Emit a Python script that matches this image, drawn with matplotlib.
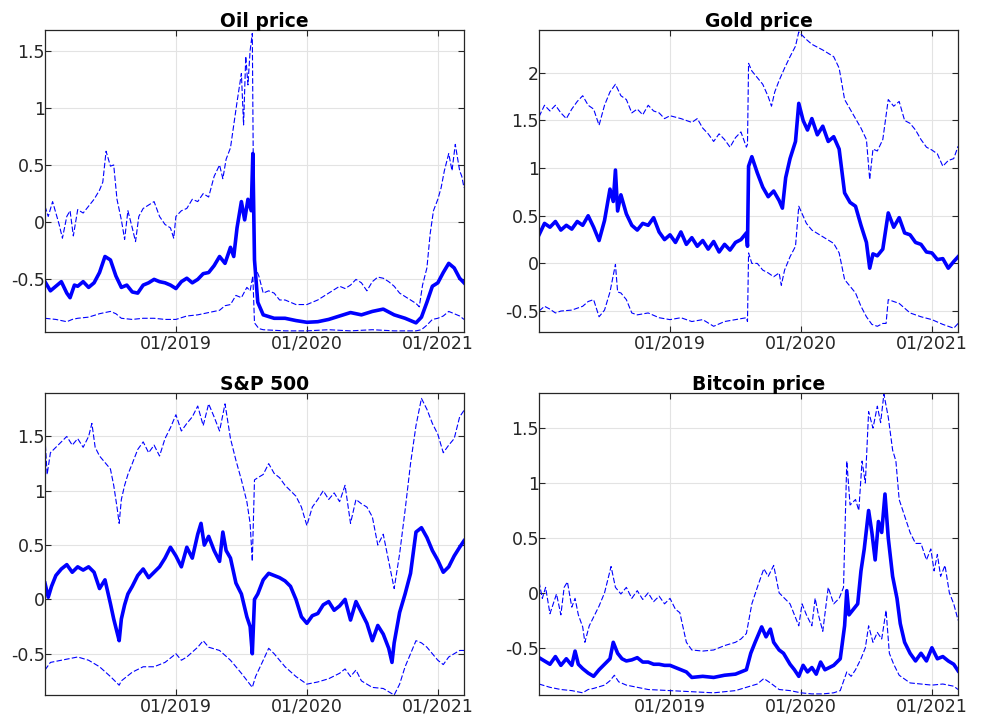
import numpy as np
import pandas as pd
import matplotlib
matplotlib.use('Agg')
import matplotlib.pyplot as plt
import matplotlib.dates as mdates

plt.rcParams['font.family'] = ['DejaVu Sans']

# x positions are months since 01/2018
# ---- Oil price
oil_mid_m = [0, 0.5, 1, 1.5, 2, 2.3, 2.7, 3, 3.5, 4, 4.5, 5, 5.5, 6, 6.5, 7, 7.5, 8, 8.5, 9,
             9.5, 10, 10.5, 11, 11.5, 12, 12.5, 13, 13.5, 14, 14.5, 15, 15.5, 16, 16.5, 17, 17.3, 17.6, 18, 18.3,
             18.6, 18.9, 19.05, 19.2, 19.5, 20, 21, 22, 23, 24, 25, 26, 27, 28, 29, 30, 31, 32, 33, 34,
             34.5, 35, 35.5, 36, 36.5, 37, 37.5, 38, 38.4]
oil_mid_v = [-0.52, -0.60, -0.56, -0.52, -0.62, -0.66, -0.55, -0.56, -0.52, -0.57,
             -0.53, -0.44, -0.30, -0.33, -0.47, -0.57, -0.55, -0.61, -0.62, -0.55,
             -0.53, -0.50, -0.52, -0.53, -0.55, -0.58, -0.52, -0.49, -0.53, -0.50,
             -0.45, -0.44, -0.38, -0.30, -0.36, -0.22, -0.30, -0.05, 0.18, 0.02,
             0.20, 0.10, 0.60, -0.33, -0.70, -0.81, -0.84, -0.84, -0.86, -0.875,
             -0.87, -0.85, -0.82, -0.79, -0.81, -0.78, -0.76, -0.81, -0.84, -0.88,
             -0.83, -0.70, -0.56, -0.53, -0.44, -0.36, -0.40, -0.49, -0.53]
oil_up_m = [0, 0.3, 0.7, 1, 1.3, 1.6, 2, 2.3, 2.6, 3, 3.5, 4, 4.5, 5, 5.3, 5.6, 6, 6.3, 6.6, 7,
            7.3, 7.6, 8, 8.3, 8.6, 9, 9.5, 10, 10.5, 11, 11.5, 11.8, 12, 12.5, 13, 13.5, 14, 14.5, 15, 15.5,
            16, 16.3, 16.6, 17, 17.3, 17.6, 18, 18.2, 18.4, 18.6, 18.8, 19, 19.15, 19.3, 19.6, 20, 20.5, 21, 21.5, 22,
            23, 24, 25, 26, 27, 27.5, 28, 28.5, 29, 29.5, 30, 30.5, 31, 31.5, 32, 32.5, 33, 33.5, 34, 34.3,
            34.6, 35, 35.3, 35.6, 36, 36.3, 36.6, 37, 37.3, 37.6, 38, 38.2, 38.4]
oil_up_v = [0.14, 0.05, 0.18, 0.08, -0.02, -0.14, 0.05, 0.10, -0.12, 0.11,
            0.08, 0.14, 0.20, 0.28, 0.35, 0.62, 0.49, 0.50, 0.20, 0.02,
            -0.15, 0.10, -0.05, -0.17, 0.05, 0.12, 0.15, 0.18, 0.05, -0.02,
            -0.05, -0.14, 0.05, 0.10, 0.12, 0.20, 0.18, 0.25, 0.22, 0.40,
            0.50, 0.38, 0.55, 0.65, 0.85, 1.05, 1.30, 0.85, 1.45, 1.20,
            1.50, 1.65, -0.25, -0.40, -0.47, -0.62, -0.60, -0.62, -0.68, -0.68,
            -0.72, -0.72, -0.68, -0.62, -0.56, -0.58, -0.55, -0.50, -0.53, -0.60,
            -0.52, -0.48, -0.49, -0.52, -0.56, -0.62, -0.65, -0.68, -0.71, -0.74,
            -0.55, -0.40, -0.10, 0.10, 0.20, 0.30, 0.45, 0.60, 0.45, 0.68,
            0.45, 0.40, 0.30]
oil_lo_m = [0, 1, 2, 2.5, 3, 4, 5, 6, 6.5, 7, 8, 9, 10, 11, 12, 13, 14, 15, 16, 16.5,
            17, 17.5, 18, 18.5, 18.8, 19.05, 19.2, 19.6, 20, 22, 24, 26, 28, 30, 32, 34, 34.5, 35, 35.5, 36,
            36.5, 37, 37.5, 38, 38.4]
oil_lo_v = [-0.84, -0.85, -0.87, -0.85, -0.84, -0.83, -0.80, -0.78, -0.80, -0.84,
            -0.85, -0.84, -0.84, -0.85, -0.85, -0.82, -0.81, -0.79, -0.77, -0.73,
            -0.72, -0.64, -0.66, -0.57, -0.60, -0.47, -0.88, -0.93, -0.94, -0.95,
            -0.95, -0.94, -0.95, -0.94, -0.95, -0.95, -0.94, -0.90, -0.85, -0.84,
            -0.82, -0.78, -0.80, -0.82, -0.85]

# ---- Gold price
gold_mid_m = [0, 0.5, 1, 1.5, 2, 2.5, 3, 3.5, 4, 4.5, 5, 5.5, 6, 6.5, 6.8, 7, 7.2, 7.5, 8, 8.5,
              9, 9.5, 10, 10.5, 11, 11.5, 12, 12.5, 13, 13.5, 14, 14.5, 15, 15.5, 16, 16.5, 17, 17.5, 18, 18.5,
              19, 19.1, 19.2, 19.5, 20, 20.5, 21, 21.5, 22, 22.3, 22.6, 23, 23.5, 23.8, 24.2, 24.6, 25, 25.5, 26, 26.5,
              27, 27.5, 28, 28.5, 29, 29.5, 30, 30.3, 30.6, 31, 31.5, 32, 32.5, 33, 33.5, 34, 34.5, 35, 35.5, 36,
              36.5, 37, 37.5, 38, 38.4]
gold_mid_v = [0.30, 0.42, 0.38, 0.44, 0.35, 0.40, 0.36, 0.44, 0.40, 0.50,
              0.38, 0.24, 0.45, 0.78, 0.65, 0.98, 0.55, 0.72, 0.52, 0.40,
              0.35, 0.42, 0.40, 0.48, 0.33, 0.25, 0.30, 0.22, 0.33, 0.20,
              0.27, 0.18, 0.24, 0.15, 0.23, 0.12, 0.20, 0.14, 0.22, 0.25,
              0.32, 0.18, 1.02, 1.12, 0.95, 0.80, 0.70, 0.76, 0.66, 0.58,
              0.90, 1.10, 1.28, 1.68, 1.50, 1.40, 1.52, 1.35, 1.44, 1.28,
              1.33, 1.20, 0.74, 0.64, 0.60, 0.40, 0.22, -0.05, 0.10, 0.08,
              0.15, 0.53, 0.38, 0.48, 0.32, 0.30, 0.22, 0.20, 0.12, 0.11,
              0.04, 0.05, -0.05, 0.02, 0.07]
gold_up_m = [0, 0.5, 1, 1.5, 2, 2.5, 3, 3.5, 4, 4.5, 5, 5.5, 6, 6.5, 7, 7.5, 8, 8.5, 9, 9.5,
             10, 10.5, 11, 11.5, 12, 13, 14, 14.5, 15, 15.5, 16, 16.5, 17, 17.5, 18, 18.5, 19, 19.1, 19.2, 19.5,
             20, 20.5, 21, 21.3, 21.6, 22, 22.5, 23, 23.5, 23.8, 24.5, 25, 26, 27, 27.5, 28, 28.5, 29, 29.5, 30,
             30.3, 30.6, 31, 31.5, 32, 32.5, 33, 33.5, 34, 34.5, 35, 35.5, 36, 36.5, 37, 37.5, 38, 38.4]
gold_up_v = [1.54, 1.66, 1.60, 1.66, 1.58, 1.52, 1.62, 1.70, 1.76, 1.66,
             1.62, 1.45, 1.66, 1.80, 1.88, 1.76, 1.72, 1.58, 1.62, 1.56,
             1.66, 1.60, 1.58, 1.52, 1.55, 1.52, 1.48, 1.52, 1.42, 1.36,
             1.28, 1.36, 1.30, 1.22, 1.32, 1.38, 1.22, 1.25, 2.10, 2.02,
             1.95, 1.88, 1.75, 1.65, 1.80, 1.92, 2.05, 2.17, 2.28, 2.43,
             2.35, 2.30, 2.24, 2.17, 2.05, 1.72, 1.62, 1.52, 1.42, 1.30,
             0.88, 1.20, 1.18, 1.30, 1.72, 1.65, 1.70, 1.50, 1.47, 1.40,
             1.30, 1.22, 1.19, 1.15, 1.02, 1.08, 1.10, 1.23]
gold_lo_m = [0, 0.5, 1, 1.5, 2, 3, 4, 4.5, 5, 5.5, 6, 6.5, 7, 7.2, 7.5, 8, 8.5, 9, 10, 11,
             12, 13, 14, 15, 16, 17, 18, 19, 19.1, 19.2, 19.5, 20, 20.5, 21, 21.5, 22, 22.2, 22.5, 23, 23.5,
             23.8, 24.5, 25, 26, 27, 27.5, 28, 28.5, 29, 29.5, 30, 30.5, 31, 31.5, 31.8, 32, 33, 34, 35, 36,
             37, 38, 38.4]
gold_lo_v = [-0.50, -0.45, -0.48, -0.52, -0.50, -0.49, -0.45, -0.40, -0.38, -0.56,
             -0.49, -0.30, -0.01, -0.30, -0.31, -0.38, -0.52, -0.54, -0.52, -0.57,
             -0.59, -0.57, -0.61, -0.59, -0.66, -0.61, -0.59, -0.57, -0.61, 0.11,
             0.00, 0.00, -0.07, -0.10, -0.14, -0.10, -0.23, -0.07, 0.07, 0.18,
             0.60, 0.42, 0.35, 0.28, 0.21, 0.11, -0.17, -0.24, -0.31, -0.45,
             -0.56, -0.64, -0.66, -0.63, -0.63, -0.38, -0.42, -0.52, -0.56, -0.59,
             -0.64, -0.68, -0.63]

# ---- S&P 500
spx_mid_m = [0, 0.3, 0.6, 1, 1.5, 2, 2.5, 3, 3.5, 4, 4.5, 5, 5.5, 6, 6.3, 6.6, 6.8, 7, 7.3, 7.6,
             8, 8.5, 9, 9.5, 10, 10.5, 11, 11.5, 12, 12.5, 13, 13.5, 14, 14.3, 14.6, 15, 15.5, 16, 16.3, 16.6,
             17, 17.5, 18, 18.5, 18.8, 19, 19.2, 19.5, 20, 20.5, 21, 21.5, 22, 22.5, 23, 23.5, 24, 24.5, 25, 25.5,
             26, 26.5, 27, 27.5, 28, 28.5, 29, 29.5, 30, 30.5, 31, 31.5, 31.8, 32, 32.5, 33, 33.5, 34, 34.5, 35,
             35.5, 36, 36.5, 37, 37.5, 38, 38.4]
spx_mid_v = [0.15, 0.02, 0.12, 0.22, 0.28, 0.32, 0.25, 0.30, 0.27, 0.30,
             0.25, 0.10, 0.18, -0.04, -0.18, -0.30, -0.38, -0.18, -0.05, 0.05,
             0.12, 0.22, 0.28, 0.20, 0.25, 0.30, 0.38, 0.48, 0.40, 0.30,
             0.48, 0.38, 0.60, 0.70, 0.50, 0.58, 0.45, 0.35, 0.62, 0.45,
             0.38, 0.15, 0.05, -0.16, -0.25, -0.50, 0.00, 0.05, 0.18, 0.24,
             0.22, 0.20, 0.17, 0.12, 0.00, -0.16, -0.22, -0.15, -0.13, -0.05,
             -0.02, -0.10, -0.06, 0.00, -0.19, -0.02, -0.12, -0.22, -0.38, -0.24,
             -0.32, -0.45, -0.58, -0.40, -0.12, 0.05, 0.24, 0.62, 0.66, 0.57,
             0.45, 0.36, 0.25, 0.30, 0.40, 0.48, 0.54]
spx_up_m = [0, 0.2, 0.5, 1, 1.5, 2, 2.5, 3, 3.5, 4, 4.3, 4.6, 5, 5.5, 6, 6.3, 6.6, 6.8, 7, 7.3,
            7.6, 8, 8.5, 9, 9.5, 10, 10.5, 11, 11.5, 12, 12.5, 13, 13.5, 14, 14.5, 15, 15.5, 16, 16.5, 17,
            17.5, 18, 18.5, 18.8, 19, 19.2, 19.5, 20, 20.5, 21, 21.5, 22, 22.5, 23, 23.5, 24, 24.5, 25, 25.5, 26,
            26.5, 27, 27.5, 28, 28.5, 29, 29.5, 30, 30.5, 31, 31.5, 32, 32.5, 33, 33.5, 34, 34.5, 35, 35.5, 36,
            36.5, 37, 37.5, 38, 38.4]
spx_up_v = [1.49, 1.15, 1.35, 1.40, 1.45, 1.50, 1.42, 1.48, 1.40, 1.50,
            1.62, 1.40, 1.32, 1.26, 1.20, 1.05, 0.85, 0.70, 0.92, 1.05,
            1.15, 1.25, 1.38, 1.45, 1.35, 1.42, 1.32, 1.48, 1.58, 1.70,
            1.55, 1.62, 1.68, 1.78, 1.60, 1.80, 1.68, 1.55, 1.80, 1.48,
            1.28, 1.10, 0.90, 0.70, 0.35, 1.10, 1.12, 1.15, 1.25, 1.16,
            1.12, 1.05, 1.00, 0.95, 0.85, 0.68, 0.85, 0.92, 1.00, 0.92,
            0.98, 0.90, 1.05, 0.70, 0.92, 0.88, 0.85, 0.76, 0.50, 0.60,
            0.35, 0.10, 0.42, 0.82, 1.25, 1.60, 1.85, 1.75, 1.62, 1.52,
            1.35, 1.42, 1.48, 1.68, 1.74]
spx_lo_m = [0, 0.5, 1, 2, 3, 4, 5, 6, 6.8, 7, 8, 9, 10, 11, 12, 12.5, 13, 14, 14.5, 15,
            16, 17, 18, 19, 19.3, 20, 20.5, 21, 22, 23, 24, 25, 26, 27, 27.5, 28, 28.5, 29, 30, 31,
            32, 32.5, 33, 33.5, 34, 34.5, 35, 36, 36.5, 37, 38, 38.4]
spx_lo_v = [-0.65, -0.58, -0.57, -0.55, -0.53, -0.56, -0.62, -0.71, -0.79, -0.75,
            -0.67, -0.62, -0.62, -0.58, -0.50, -0.56, -0.53, -0.44, -0.38, -0.44,
            -0.47, -0.56, -0.68, -0.81, -0.71, -0.56, -0.45, -0.50, -0.62, -0.71,
            -0.78, -0.76, -0.73, -0.68, -0.64, -0.71, -0.65, -0.75, -0.81, -0.82,
            -0.88, -0.78, -0.62, -0.50, -0.38, -0.40, -0.44, -0.56, -0.60, -0.53,
            -0.47, -0.47]

# ---- Bitcoin price
btc_mid_m = [0, 0.5, 1, 1.5, 2, 2.5, 3, 3.3, 3.6, 4, 4.5, 5, 5.5, 6, 6.5, 6.8, 7.2, 7.6, 8, 8.5,
             9, 9.5, 10, 10.5, 11, 11.5, 12, 12.5, 13, 13.5, 14, 15, 16, 17, 18, 19, 19.4, 19.8, 20.4, 20.8,
             21.2, 21.5, 22, 22.4, 23, 23.4, 23.8, 24.2, 24.6, 25, 25.4, 25.8, 26.2, 26.6, 27, 27.6, 28, 28.2, 28.4, 28.8,
             29.2, 29.5, 29.8, 30.2, 30.5, 30.8, 31.1, 31.4, 31.7, 32, 32.4, 32.8, 33.1, 33.5, 34, 34.5, 35, 35.5, 36, 36.5,
             37, 37.5, 38, 38.4]
btc_mid_v = [-0.59, -0.62, -0.65, -0.58, -0.66, -0.60, -0.66, -0.53, -0.65, -0.69,
             -0.73, -0.76, -0.70, -0.65, -0.60, -0.45, -0.55, -0.60, -0.62, -0.61,
             -0.59, -0.63, -0.63, -0.65, -0.65, -0.66, -0.66, -0.68, -0.70, -0.72,
             -0.77, -0.76, -0.77, -0.75, -0.74, -0.70, -0.55, -0.45, -0.31, -0.40,
             -0.33, -0.45, -0.52, -0.55, -0.65, -0.70, -0.76, -0.66, -0.72, -0.68,
             -0.74, -0.63, -0.70, -0.68, -0.66, -0.60, -0.30, 0.02, -0.20, -0.15,
             -0.10, 0.20, 0.40, 0.75, 0.55, 0.30, 0.65, 0.55, 0.90, 0.50,
             0.15, -0.05, -0.28, -0.45, -0.55, -0.62, -0.55, -0.62, -0.50, -0.60,
             -0.58, -0.62, -0.65, -0.71]
btc_up_m = [0, 0.3, 0.6, 1, 1.3, 1.6, 2, 2.3, 2.6, 3, 3.3, 3.6, 4, 4.2, 4.6, 5, 5.5, 6, 6.3, 6.6,
            7, 7.5, 8, 8.5, 9, 9.5, 10, 10.5, 11, 11.5, 12, 12.5, 12.9, 13.5, 14, 15, 16, 17, 18, 18.5,
            19, 19.5, 20, 20.6, 21, 21.5, 22, 22.5, 23, 23.8, 24.1, 24.5, 25, 25.3, 25.6, 26, 26.5, 27, 27.5, 27.9,
            28.2, 28.5, 29, 29.3, 29.6, 29.9, 30.2, 30.6, 31, 31.3, 31.6, 32, 32.4, 32.7, 33, 33.5, 34, 34.5, 35, 35.5,
            35.9, 36.2, 36.5, 36.8, 37.2, 37.6, 38, 38.4]
btc_up_v = [0.10, -0.05, 0.05, -0.19, -0.10, -0.01, -0.20, 0.05, 0.10, -0.13,
            -0.05, -0.20, -0.31, -0.45, -0.30, -0.22, -0.12, 0.00, 0.12, 0.24,
            0.05, -0.01, 0.05, -0.05, 0.02, -0.06, 0.00, -0.08, -0.03, -0.10,
            -0.05, -0.15, -0.18, -0.45, -0.52, -0.53, -0.52, -0.48, -0.45, -0.42,
            -0.37, -0.10, 0.05, 0.22, 0.15, 0.25, 0.00, -0.05, -0.10, -0.30,
            -0.10, -0.20, -0.30, -0.05, -0.20, -0.35, 0.05, -0.10, -0.05, 0.05,
            1.20, 0.80, 0.85, 0.75, 1.20, 1.00, 1.65, 1.50, 1.70, 1.55,
            1.81, 1.60, 1.30, 1.20, 0.85, 0.70, 0.55, 0.45, 0.45, 0.30,
            0.40, 0.20, 0.35, 0.15, 0.25, 0.00, -0.10, -0.25]
btc_lo_m = [0, 1, 2, 3, 4, 4.5, 5, 6, 6.5, 6.9, 7.3, 8, 9, 10, 12, 14, 16, 18, 19, 20,
            20.6, 21.2, 22, 23, 24, 25, 26, 27, 27.6, 28.2, 28.6, 29, 29.5, 29.9, 30.2, 30.6, 31, 31.4, 31.8, 32.1,
            32.5, 33, 34, 35, 36, 37, 38, 38.4]
btc_lo_v = [-0.83, -0.86, -0.88, -0.89, -0.91, -0.88, -0.87, -0.84, -0.80, -0.75,
            -0.81, -0.84, -0.86, -0.88, -0.89, -0.90, -0.91, -0.89, -0.86, -0.83,
            -0.78, -0.82, -0.88, -0.89, -0.91, -0.92, -0.92, -0.91, -0.89, -0.72,
            -0.76, -0.70, -0.60, -0.50, -0.30, -0.45, -0.36, -0.42, -0.16, -0.55,
            -0.65, -0.75, -0.82, -0.83, -0.84, -0.83, -0.85, -0.88]

titles = ['Oil price', 'Gold price', 'S&P 500', 'Bitcoin price']
ylims = [(-0.96, 1.68), (-0.72, 2.45), (-0.88, 1.90), (-0.93, 1.82)]
start = pd.Timestamp('2018-01-01')


def to_dates(m):
    return start + pd.to_timedelta(np.array(m) * 30.4375, unit='D')


panels = [
    (oil_mid_m, oil_mid_v, oil_up_m, oil_up_v, oil_lo_m, oil_lo_v),
    (gold_mid_m, gold_mid_v, gold_up_m, gold_up_v, gold_lo_m, gold_lo_v),
    (spx_mid_m, spx_mid_v, spx_up_m, spx_up_v, spx_lo_m, spx_lo_v),
    (btc_mid_m, btc_mid_v, btc_up_m, btc_up_v, btc_lo_m, btc_lo_v),
]

fig = plt.figure(figsize=(9.86, 7.14), dpi=100)
boxes = [[0.0456, 0.535, 0.425, 0.423], [0.5467, 0.535, 0.425, 0.423],
         [0.0456, 0.0266, 0.425, 0.423], [0.5467, 0.0266, 0.425, 0.423]]

for i, (mm, mv, um, uv, lm, lv) in enumerate(panels):
    ax = fig.add_axes(boxes[i])
    ax.plot(to_dates(um), uv, color='blue', lw=0.8, ls=(0, (5, 2)))
    ax.plot(to_dates(lm), lv, color='blue', lw=0.8, ls=(0, (5, 2)))
    ax.plot(to_dates(mm), mv, color='blue', lw=2.6)
    ax.set_xlim(start, to_dates([38.4])[0])
    ax.set_ylim(*ylims[i])
    ax.set_xticks([pd.Timestamp('2019-01-01'), pd.Timestamp('2020-01-01'), pd.Timestamp('2021-01-01')])
    ax.xaxis.set_major_formatter(mdates.DateFormatter('%m/%Y'))
    ax.yaxis.set_major_locator(matplotlib.ticker.MultipleLocator(0.5))
    ax.yaxis.set_major_formatter(matplotlib.ticker.FuncFormatter(lambda v, p: f'{v:g}'))
    ax.grid(True, color='#e3e3e3', lw=0.8)
    ax.set_axisbelow(True)
    ax.tick_params(direction='in', top=True, right=True, length=4, width=0.8,
                   labelsize=12.5, pad=2, colors='#262626')
    ax.tick_params(axis='y', pad=0)
    for s in ax.spines.values():
        s.set_color('#262626')
        s.set_linewidth(0.9)
    ax.set_title(titles[i], fontsize=13.5, fontweight='bold', pad=2, x=0.524)

fig.savefig('out.png', dpi=100, facecolor='white')
